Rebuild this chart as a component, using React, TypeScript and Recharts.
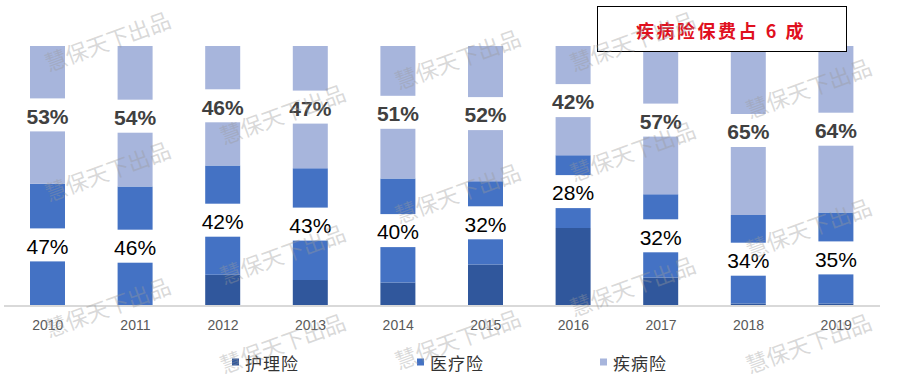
import React from 'react';
import { BarChart, Bar, XAxis, YAxis, LabelList } from 'recharts';

// 保费结构（%）
const years = ['2010', '2011', '2012', '2013', '2014', '2015', '2016', '2017', '2018', '2019'];
const nursing = [0, 0, 12, 10, 9, 16, 30, 11, 1, 1]; // 护理险
const medical = [47, 46, 42, 43, 40, 32, 28, 32, 34, 35]; // 医疗险
const critical = [53, 54, 46, 47, 51, 52, 42, 57, 65, 64]; // 疾病险

const seriesNames = ['护理险', '医疗险', '疾病险'];
const colors = ['#30579c', '#4472c4', '#a7b5dc'];

const data = years.map((y, i) => ({
  year: y,
  nursing: nursing[i],
  medical: medical[i],
  critical: critical[i],
}));

// watermark spots (kept inside the frame)
const marks = [
  [107, 40], [107, 170], [107, 306],
  [282, 113], [282, 253], [282, 342],
  [457, 58], [457, 192], [457, 338],
  [632, 40], [632, 150], [632, 285],
  [808, 87], [808, 227], [808, 342],
];

const cjk = '"Noto Sans CJK SC", sans-serif';
const latin = '"Liberation Sans", Arial, sans-serif';

const makeLabel = (bold: boolean) => (props: any) => {
  const { x, y, width, height, value } = props;
  const cx = x + width / 2;
  const cy = y + height / 2;
  return (
    <g>
      <rect x={cx - 25} y={cy - 16.5} width={50} height={33} fill="#fff" />
      <text
        x={cx}
        y={cy}
        dy="0.42em"
        textAnchor="middle"
        fontSize={21}
        fontWeight={bold ? 700 : 400}
        fontFamily={latin}
        fill={bold ? '#404040' : '#000'}
      >
        {value}%
      </text>
    </g>
  );
};

const legendX = [232, 417, 600];

export default function App() {
  return (
    <div style={{ position: 'absolute', left: 0, top: 0, width: 898, height: 382, background: '#fff' }}>
      <BarChart
        width={898}
        height={382}
        data={data}
        barSize={35}
        margin={{ top: 46, right: 18, left: 4, bottom: 46 }}
      >
        <XAxis
          dataKey="year"
          height={30}
          tickLine={false}
          axisLine={{ stroke: '#d9d9d9', strokeWidth: 2 }}
          tickMargin={8}
          tick={{ fontSize: 14, fill: '#595959', fontFamily: latin }}
          interval={0}
        />
        <YAxis hide domain={[0, 100]} />
        <Bar dataKey="nursing" stackId="a" fill={colors[0]} isAnimationActive={false} />
        <Bar dataKey="medical" stackId="a" fill={colors[1]} isAnimationActive={false}>
          <LabelList dataKey="medical" content={makeLabel(false)} />
        </Bar>
        <Bar dataKey="critical" stackId="a" fill={colors[2]} isAnimationActive={false}>
          <LabelList dataKey="critical" content={makeLabel(true)} />
        </Bar>
      </BarChart>
      <svg
        width={898}
        height={382}
        style={{ position: 'absolute', left: 0, top: 0, pointerEvents: 'none' }}
      >
        <rect x={597.5} y={6.5} width={249} height={45} fill="#fff" stroke="#000" strokeWidth={1} />
        <text
          x={721}
          y={30}
          textAnchor="middle"
          dominantBaseline="central"
          fontSize={18}
          fontWeight={700}
          letterSpacing={2.5}
          fontFamily={cjk}
          fill="#e0101e"
        >
          疾病险保费占 6 成
        </text>
        {seriesNames.map((n, i) => (
          <g key={n}>
            <rect x={legendX[i]} y={358.5} width={7} height={7} fill={colors[i]} />
            <text
              x={legendX[i] + 13}
              y={362}
              dominantBaseline="central"
              fontSize={17}
              letterSpacing={1}
              fontFamily={cjk}
              fill="#333"
            >
              {n}
            </text>
          </g>
        ))}
        {marks.map(([mx, my], i) => (
          <text
            key={i}
            x={mx}
            y={my}
            textAnchor="middle"
            dominantBaseline="central"
            fontSize={22}
            fontFamily={cjk}
            fill="#9a9a9a"
            fillOpacity={0.38}
            transform={`rotate(-20 ${mx} ${my})`}
          >
            慧保天下出品
          </text>
        ))}
      </svg>
    </div>
  );
}
